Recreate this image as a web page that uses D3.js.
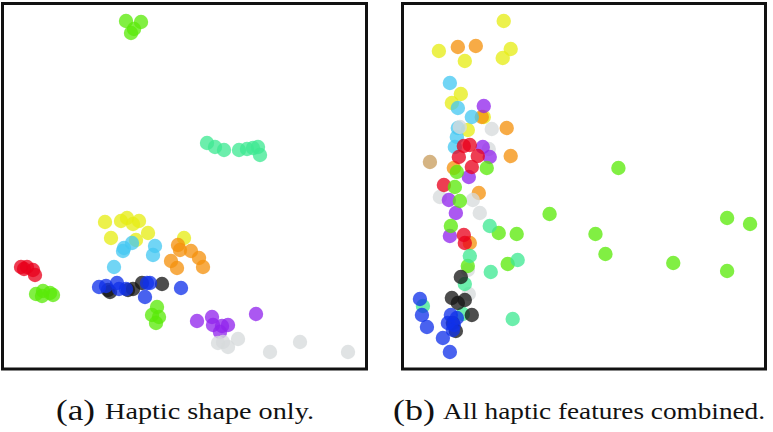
<!DOCTYPE html>
<html>
<head>
<meta charset="utf-8">
<script src="https://cdn.jsdelivr.net/npm/d3@7"></script>
<style>
  html, body { margin: 0; padding: 0; background: #fff; }
  svg { display: block; }
  .cap { font-family: "Liberation Serif", "Nimbus Roman", "Nimbus Roman No9 L", "Noto Serif", "FreeSerif", "Times New Roman", Times, serif; fill: #111; }
</style>
</head>
<body>
<svg id="chart" width="773" height="432"></svg>
<script>
// classes and their colours
var classes = ["red", "lime", "mint", "yellow", "cyan", "orange", "blue", "black", "purple", "grey", "tan"];
var classColors = ["#e8001c", "#5aea08", "#3ee892", "#e6ec14", "#44c8f2", "#f5900c", "#1030ea", "#151515", "#9024ec", "#d6dadc", "#c89c5c"];

// 2-D embedding, haptic shape only: [class, x, y]
var shapePoints = [
  [1, -5.9, 16.5], [1, -4.4, 16.4], [1, -5.1, 15.7], [1, -5.4, 15.3],
  [2, 2.2, 4.3], [2, 3.0, 3.9], [2, 3.9, 3.6], [2, 5.4, 3.6], [2, 6.2, 3.7], [2, 6.8, 3.8], [2, 7.3, 3.9], [2, 7.5, 3.1],
  [3, -8.0, -3.6], [3, -6.4, -3.5], [3, -5.8, -3.2], [3, -5.2, -3.8], [3, -4.6, -3.5], [3, -7.4, -5.2], [3, -3.7, -4.7], [3, -4.9, -5.4], [3, -0.1, -5.2],
  [4, -6.2, -6.5], [4, -6.1, -6.2], [4, -5.3, -5.7], [4, -3.0, -6.0], [4, -3.2, -6.9], [4, -7.1, -8.1],
  [5, -0.7, -5.9], [5, -0.5, -6.4], [5, 0.6, -6.5], [5, 1.4, -7.2], [5, -1.4, -7.5], [5, -0.8, -8.2], [5, 1.8, -8.1],
  [0, -16.4, -8.1], [0, -15.8, -8.1], [0, -16.1, -8.3], [0, -15.2, -8.4], [0, -15.0, -8.9],
  [1, -14.9, -10.8], [1, -14.2, -10.5], [1, -13.5, -10.7], [1, -13.2, -10.9], [1, -14.3, -11.0],
  [7, -7.5, -10.6], [7, -7.7, -10.4], [7, -5.7, -10.4], [7, -5.2, -10.3], [7, -4.3, -9.7], [7, -2.3, -9.8],
  [6, -8.6, -10.1], [6, -7.9, -10.0], [6, -6.8, -9.7], [6, -6.6, -10.3], [6, -5.9, -10.3], [6, -3.8, -9.7], [6, -3.5, -9.7], [6, -4.0, -11.1], [6, -0.4, -10.2],
  [1, -2.8, -12.1], [1, -3.3, -12.9], [1, -2.6, -13.1], [1, -2.9, -13.7],
  [8, 1.2, -13.5], [8, 2.7, -13.1], [8, 2.8, -13.9], [8, 3.7, -14.0], [8, 4.3, -13.9], [8, 3.5, -14.6], [8, 7.1, -12.8],
  [9, 3.3, -15.7], [9, 3.8, -15.6], [9, 4.3, -16.1], [9, 5.3, -15.3], [9, 8.5, -16.6], [9, 11.5, -15.6], [9, 16.3, -16.6]
];

// 2-D embedding, all haptic features combined: [class, x, y]
var combinedPoints = [
  [3, -8.1, 16.5], [3, -14.6, 13.5], [3, -7.4, 13.7], [3, -8.2, 12.8], [3, -12.0, 12.5], [3, -12.4, 9.2], [3, -13.3, 8.3], [3, -10.1, 6.9], [3, -11.7, 5.6],
  [5, -12.7, 13.9], [5, -10.9, 14.0], [5, -10.3, 6.9], [5, -7.8, 5.8], [5, -7.4, 3.0], [5, -13.1, 1.8], [5, -10.6, -0.7], [5, -11.5, -5.7],
  [4, -13.5, 10.3], [4, -12.7, 7.8], [4, -11.3, 6.9], [4, -12.7, 5.8], [4, -12.8, 4.9], [4, -13.0, 3.9],
  [9, -9.3, 5.7], [9, -12.5, 5.9], [9, -9.6, 3.7], [9, -14.5, -1.1], [9, -11.2, -1.4], [9, -10.5, -2.7], [9, -11.7, -8.4], [9, -11.6, -10.8],
  [8, -10.1, 8.0], [8, -10.2, 3.9], [8, -9.5, 2.9], [8, -11.6, 0.9], [8, -13.6, -1.4], [8, -12.9, -2.7], [8, -13.5, -5.0],
  [0, -12.1, 4.0], [0, -11.5, 4.1], [0, -12.6, 2.9], [0, -10.7, 3.0], [0, -11.3, 1.9], [0, -14.1, 0.1], [0, -12.1, -4.9], [0, -12.0, -5.7],
  [10, -15.5, 2.4],
  [1, 3.4, 1.8], [1, -9.8, 1.8], [1, -12.8, 1.4], [1, -13.0, -0.1], [1, -12.5, -1.5], [1, -13.4, -4.0], [1, -3.5, -2.8], [1, -8.6, -4.7],
  [1, -6.8, -4.8], [1, 1.1, -4.8], [1, 2.1, -6.8], [1, -7.7, -7.8], [1, 8.9, -7.7], [1, 14.3, -3.2], [1, 16.6, -3.8], [1, 14.3, -8.5], [1, -11.7, -8.0],
  [2, -9.5, -4.0], [2, -11.5, -7.0], [2, -6.7, -7.4], [2, -9.4, -8.6], [2, -12.0, -9.8], [2, -16.2, -12.0], [2, -7.2, -13.3], [2, -12.2, -12.8],
  [7, -12.4, -9.1], [7, -13.3, -11.2], [7, -12.7, -11.7], [7, -12.0, -11.4], [7, -11.3, -12.9], [7, -12.9, -14.5], [7, -13.2, -13.7],
  [6, -16.5, -11.3], [6, -16.3, -12.9], [6, -15.8, -14.1], [6, -14.2, -15.2], [6, -13.5, -16.6], [6, -13.4, -12.9], [6, -13.7, -13.7],
  [6, -13.1, -13.9], [6, -13.2, -14.4], [6, -12.8, -13.2]
];

var captionTags = ["(a)", "(b)"];
var captionTexts = ["Haptic shape only.", "All haptic features combined."];

var svg = d3.select("#chart");

var panels = [
  { pts: shapePoints, x0: 3, x1: 367, tagX: 56, tagW: 39, textX: 105, textW: 209 },
  { pts: combinedPoints, x0: 403, x1: 766, tagX: 393, tagW: 42, textX: 443, textW: 322 }
];
var plotTop = 3, plotBottom = 369, dotR = 7.2;

panels.forEach(function(p, i) {
  var x = d3.scaleLinear().domain([-18.2, 18.2]).range([p.x0, p.x1]);
  var y = d3.scaleLinear().domain([-18.3, 18.3]).range([plotBottom, plotTop]);

  var g = svg.append("g");
  g.selectAll("circle")
    .data(p.pts)
    .enter().append("circle")
    .attr("cx", function(d) { return x(d[1]); })
    .attr("cy", function(d) { return y(d[2]); })
    .attr("r", dotR)
    .attr("fill", function(d) { return classColors[d[0]]; })
    .attr("fill-opacity", 0.76);

  g.append("rect")
    .attr("x", p.x0 - 0.5)
    .attr("y", plotTop + 0.5)
    .attr("width", p.x1 - p.x0)
    .attr("height", plotBottom - plotTop - 0.5)
    .attr("fill", "none")
    .attr("stroke", "#111")
    .attr("stroke-width", 3);

  svg.append("text")
    .attr("class", "cap")
    .attr("x", p.tagX)
    .attr("y", 420)
    .style("font-size", "30px")
    .attr("textLength", p.tagW)
    .attr("lengthAdjust", "spacingAndGlyphs")
    .text(captionTags[i]);

  svg.append("text")
    .attr("class", "cap")
    .attr("x", p.textX)
    .attr("y", 419)
    .style("font-size", "23px")
    .attr("textLength", p.textW)
    .attr("lengthAdjust", "spacingAndGlyphs")
    .text(captionTexts[i]);
});
</script>
</body>
</html>
